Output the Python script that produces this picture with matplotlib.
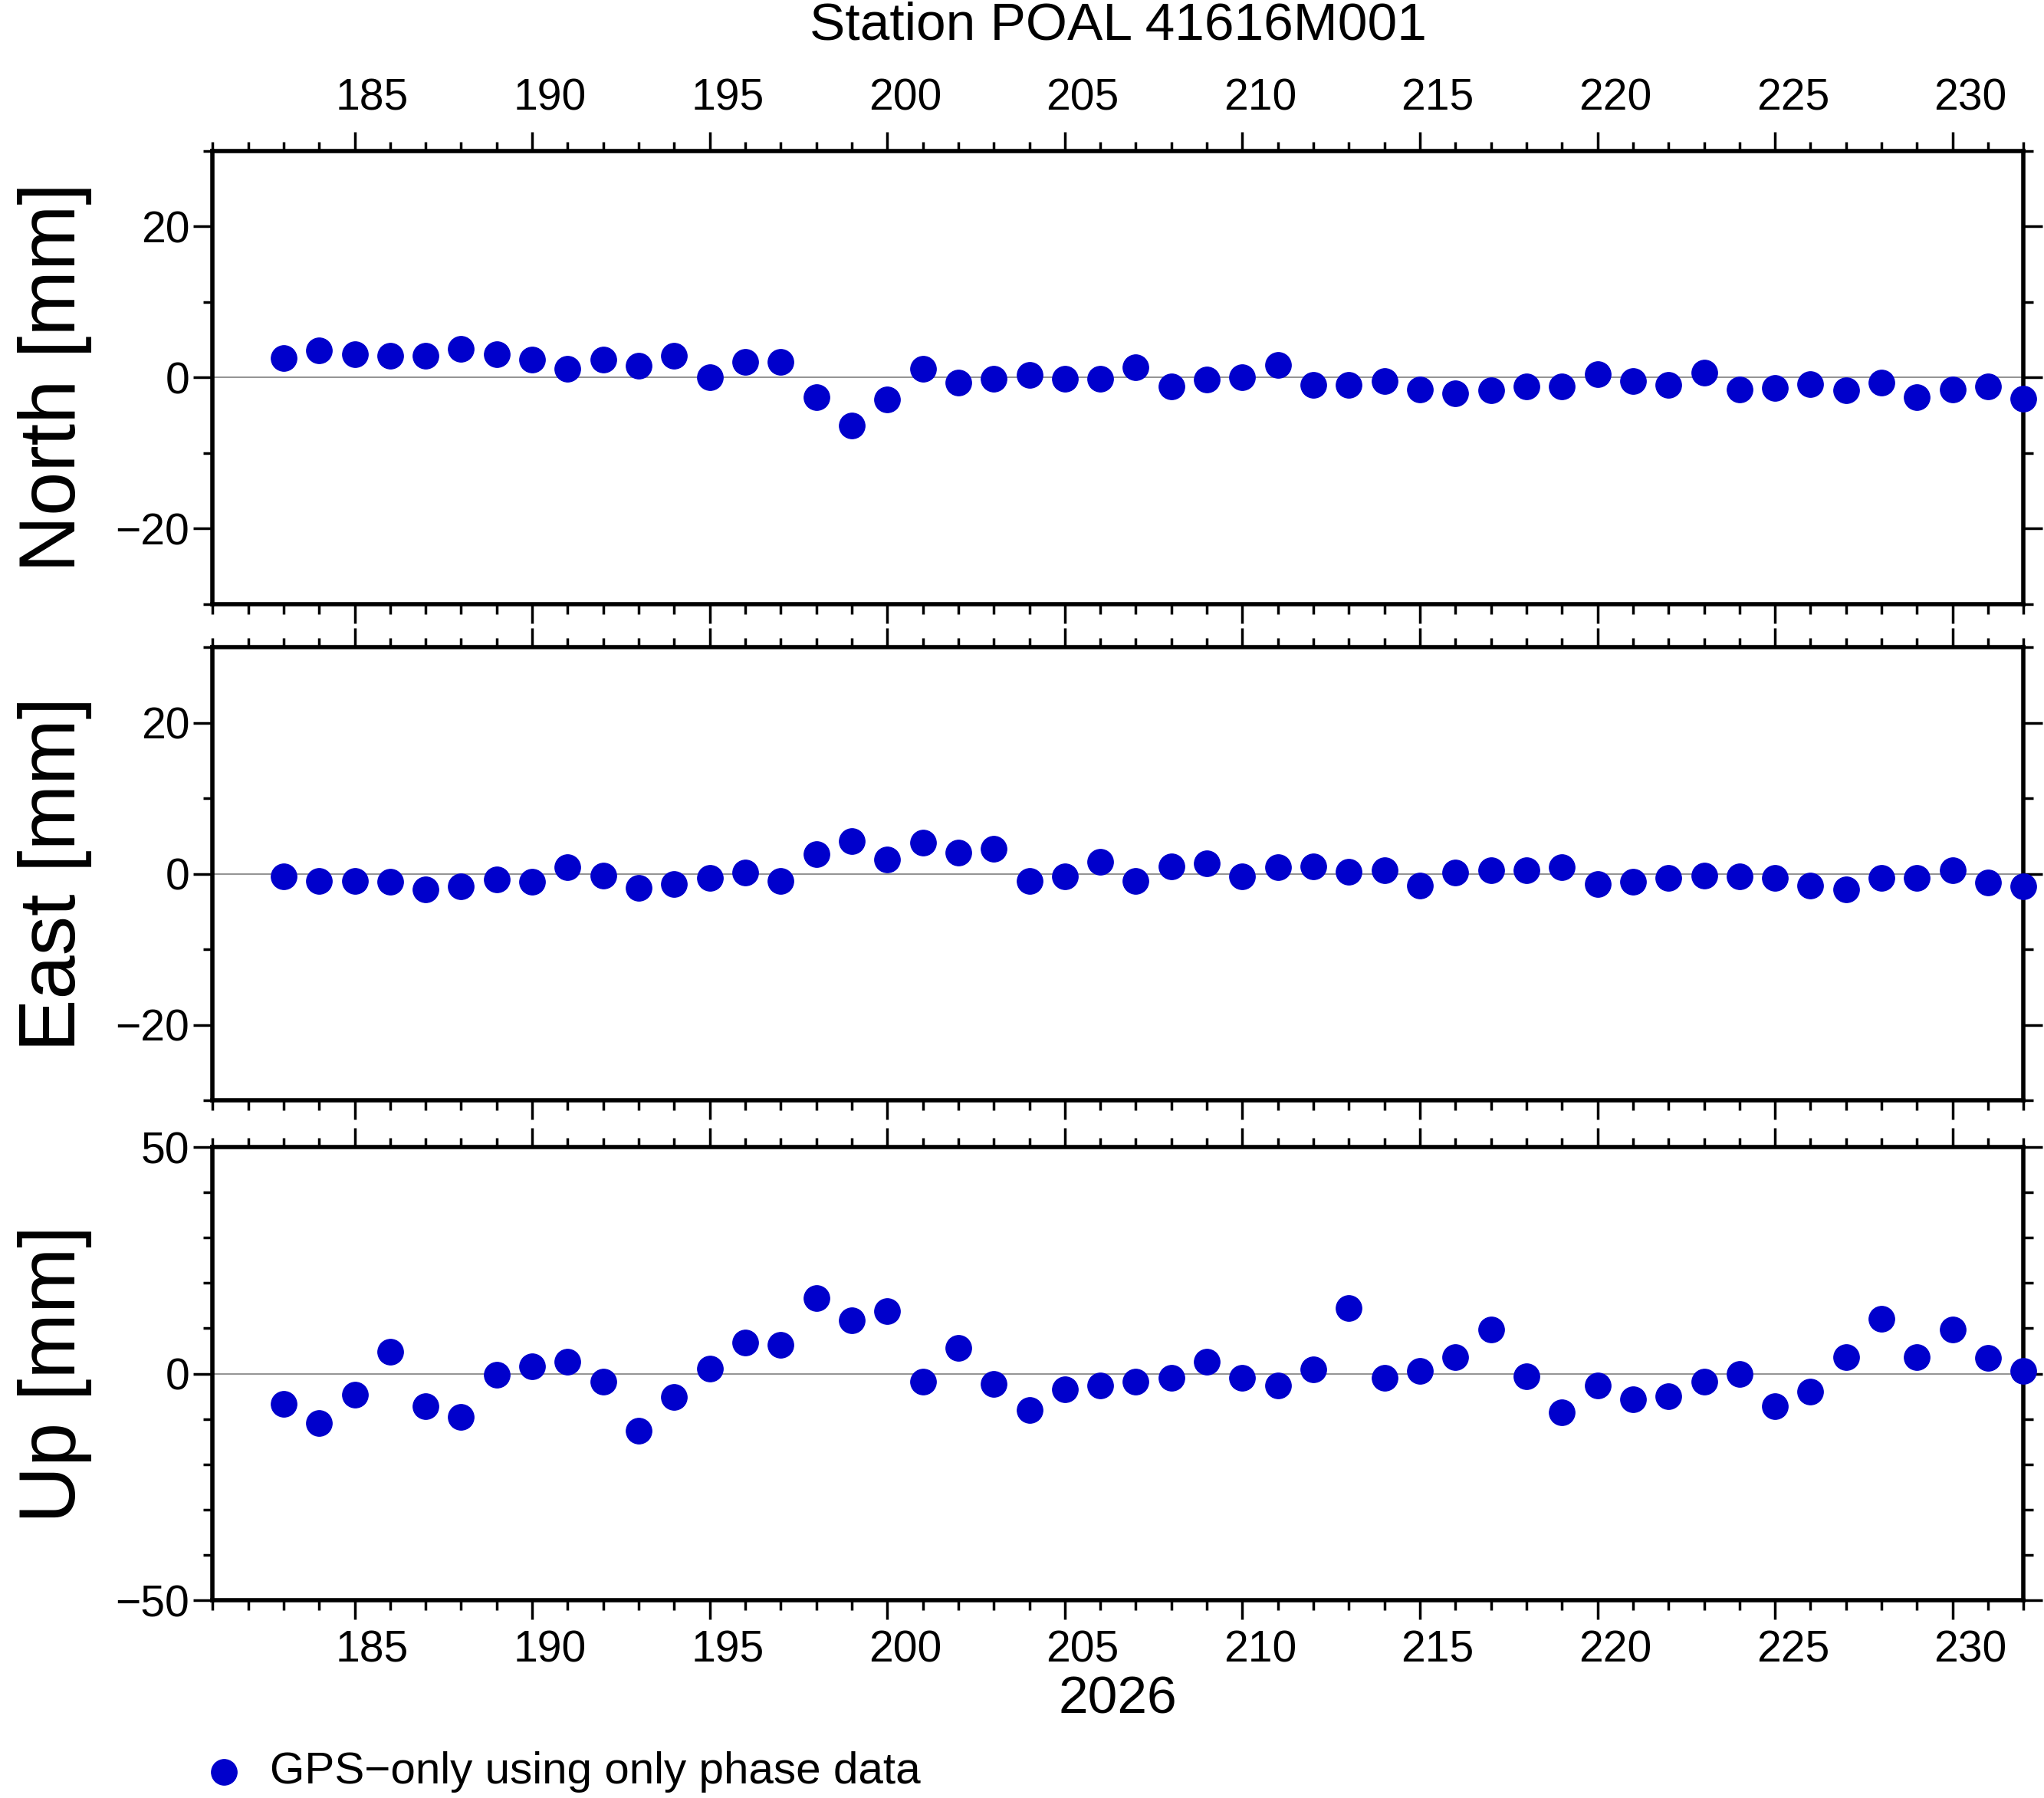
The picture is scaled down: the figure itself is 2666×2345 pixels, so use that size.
import matplotlib
matplotlib.use("Agg")
import matplotlib.pyplot as plt
import matplotlib.transforms as mtransforms
import numpy as np

plt.rcParams['font.family'] = ['Liberation Sans', 'DejaVu Sans']

days = list(range(183, 233))
north = [2.6,3.6,3.1,2.9,2.9,3.8,3.1,2.4,1.2,2.4,1.6,2.9,0.0,2.1,2.1,-2.6,-6.4,-2.9,1.2,-0.7,
         -0.2,0.3,-0.2,-0.2,1.4,-1.2,-0.3,0.0,1.7,-1.0,-1.0,-0.5,-1.6,-2.1,-1.7,-1.2,-1.2,0.5,-0.5,-1.0,
         0.7,-1.6,-1.4,-0.9,-1.7,-0.7,-2.6,-1.6,-1.2,-2.8]
east = [-0.3,-0.9,-0.9,-1.0,-2.1,-1.7,-0.7,-1.0,0.9,-0.2,-1.9,-1.4,-0.5,0.2,-0.9,2.6,4.3,1.9,4.1,2.8,
        3.3,-0.9,-0.3,1.6,-0.9,1.0,1.4,-0.3,0.9,1.0,0.3,0.5,-1.6,0.2,0.5,0.5,0.9,-1.4,-1.0,-0.5,
        -0.2,-0.3,-0.5,-1.6,-2.1,-0.5,-0.5,0.5,-1.2,-1.7]
up = [-6.6,-10.9,-4.6,4.9,-7.2,-9.5,-0.3,1.7,2.6,-1.7,-12.6,-5.2,1.1,6.9,6.3,16.7,11.8,13.8,-1.7,5.7,
      -2.3,-8.0,-3.4,-2.6,-1.7,-0.9,2.6,-0.9,-2.6,0.9,14.4,-0.9,0.6,3.7,9.8,-0.6,-8.6,-2.6,-5.7,-4.9,
      -1.7,0.0,-7.2,-4.0,3.7,12.1,3.7,9.8,3.4,0.6]
xtick_labels = [185, 190, 195, 200, 205, 210, 215, 220, 225, 230]
title = "Station POAL 41616M001"
year_label = "2026"
legend_label = "GPS\u2212only using only phase data"

color = "#0000CC"
fig = plt.figure(figsize=(26.66, 23.45), dpi=100)
L, R = 0.104, 0.990
panels = [
    (north, "North [mm]", (-30, 30), 20, 10, 0.664, 0.916),
    (east, "East [mm]", (-30, 30), 20, 10, 0.388, 0.640),
    (up, "Up [mm]", (-50, 50), 50, 10, 0.110, 0.362),
]
for i, (vals, lab, ylim, maj, mnr, b, t) in enumerate(panels):
    ax = fig.add_axes([L, b, R - L, t - b])
    ax.axhline(0, color="#808080", lw=1.2, zorder=1)
    ax.plot(days, vals, 'o', color=color, ms=24, zorder=3, clip_on=False)
    ax.set_xlim(181, 232)
    ax.set_ylim(*ylim)
    ax.set_xticks(xtick_labels)
    ax.set_xticks(np.arange(181, 233), minor=True)
    ax.set_yticks(np.arange(ylim[0] + (0 if ylim[0] % maj == 0 else maj - ylim[0] % maj), ylim[1] + 1, maj))
    ax.set_yticks(np.arange(ylim[0], ylim[1] + 1, mnr), minor=True)
    ax.tick_params(which='both', direction='out', top=True, right=True, width=2.5)
    ax.tick_params(which='major', length=18, labelsize=41, labelbottom=False, labeltop=False)
    ax.tick_params(which='minor', length=9)
    for s in ax.spines.values():
        s.set_linewidth(4)
    ax.set_ylabel(lab, fontsize=74, labelpad=22)
    trans = mtransforms.blended_transform_factory(ax.transData, ax.transAxes)
    if i == 0:
        for d in xtick_labels:
            ax.text(d + 0.5, 1.07, str(d), transform=trans, ha='center', va='bottom', fontsize=41)
        ax.set_title(title, fontsize=50, pad=105)
    if i == 2:
        for d in xtick_labels:
            ax.text(d + 0.5, -0.065, str(d), transform=trans, ha='center', va='top', fontsize=41)
        ax.text(0.5, -0.165, year_label, transform=ax.transAxes, ha='center', va='top', fontsize=50)

fig.lines.append(plt.Line2D([172 / 1568], [1 - 1360 / 1380], marker='o', ms=24, color=color,
                            transform=fig.transFigure, ls='none'))
fig.text(207 / 1568, 1 - 1360 / 1380, legend_label, fontsize=42, va='center', ha='left')

fig.savefig("out.png", dpi=100)
